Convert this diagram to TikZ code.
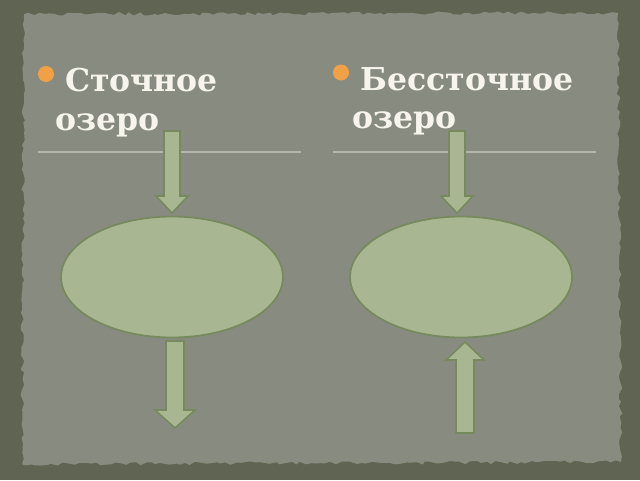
\documentclass[tikz,border=0pt]{standalone}
\usepackage{fontspec}
\setmainfont{DejaVu Serif}
\usepackage{tikz}
\usetikzlibrary{decorations.pathmorphing}
\usetikzlibrary{shapes.geometric}
\definecolor{frame}{HTML}{5F6552}
\definecolor{paper}{HTML}{888C80}
\definecolor{lake}{HTML}{A8B792}
\definecolor{lakeline}{HTML}{778A5E}
\definecolor{bullet}{HTML}{F2A045}
\definecolor{rule}{HTML}{B4B6AE}
\definecolor{headtext}{HTML}{F6F4EC}
\tikzset{
  heading/.style={font=\bfseries\fontsize{31.5}{36}\selectfont, text=headtext,
    anchor=base west, inner sep=0pt},
  blockarrow/.style={fill=lake, draw=lakeline, line width=1.6pt, line join=miter},
  lakebox/.style={fill=lake, draw=lakeline, line width=1.8pt}
}
\begin{document}
\begin{tikzpicture}[x=1pt,y=-1pt]
    \fill[frame] (0,0) rectangle (640,480);
    \fill[paper, decorate, decoration={random steps, segment length=5pt, amplitude=1.8pt}]
      (24,14) -- (618,13) -- (621,462) -- (22,464) -- cycle;
    \useasboundingbox (0,0) rectangle (640,480);
    % headings
    \fill[bullet] (46,74) circle (8);
    \node[heading] (flowA) at (65,91.5) {Сточное};
    \node[heading] (flowB) at (55.5,130) {озеро};
    \fill[bullet] (341,72.5) circle (8);
    \node[heading] (noflowA) at (360,90.5) {Бессточное};
    \node[heading] (noflowB) at (352,128) {озеро};
    \draw[rule, line width=1.2pt] (38,152) -- (301,152);
    \draw[rule, line width=1.2pt] (333,152) -- (596,152);
    % lakes
    \node[lakebox, ellipse, minimum width=222, minimum height=121] (lakeA) at (172,277) {};
    \node[lakebox, ellipse, minimum width=222, minimum height=121] (lakeB) at (461,277) {};
    % in and out
    \draw[blockarrow] (164,131) -- (180,131) -- (180,196) -- (188,196) -- (172,213)
      -- (156,196) -- (164,196) -- cycle;
    \draw[blockarrow] (449,131) -- (465,131) -- (465,196) -- (473,196) -- (457,213)
      -- (441,196) -- (449,196) -- cycle;
    \draw[blockarrow] (166,341) -- (184,341) -- (184,410) -- (195,410) -- (175,428)
      -- (155,410) -- (166,410) -- cycle;
    \draw[blockarrow] (456,433) -- (474,433) -- (474,360) -- (484,360) -- (465,342)
      -- (446,360) -- (456,360) -- cycle;
\end{tikzpicture}
\end{document}
